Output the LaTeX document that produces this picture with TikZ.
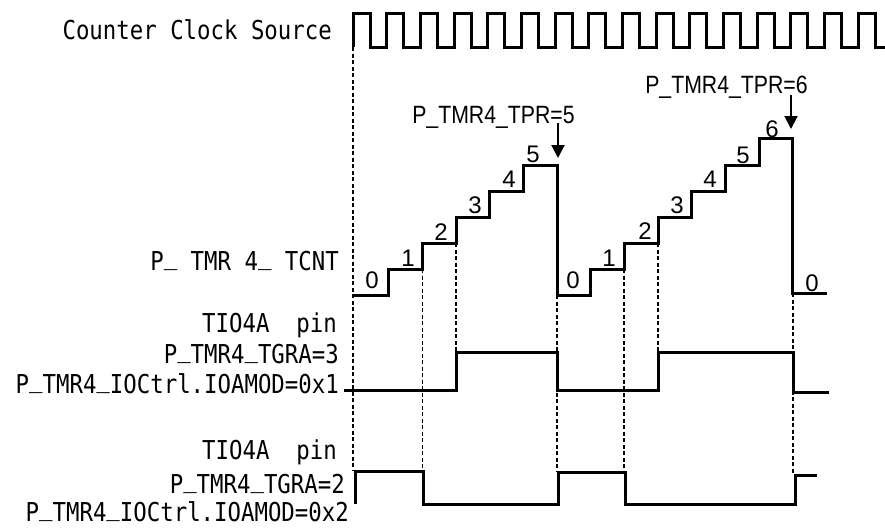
\documentclass[tikz,border=0pt]{standalone}
\usepackage{fontspec}
\setmainfont{Liberation Sans}
\newfontfamily\monolab[FakeStretch=0.86]{DejaVu Sans Mono}
\newfontfamily\narrowlab[FakeStretch=0.85]{Liberation Sans}
\usetikzlibrary{arrows.meta}
\newcommand\usc{\raisebox{0.22em}{\_}}
\begin{document}
\begin{tikzpicture}[x=1pt,y=-1pt,
  wave/.style={line width=3pt, line join=miter},
  guide/.style={line width=1.1pt, dash pattern=on 4pt off 2.5pt},
  lab/.style={font=\monolab\fontsize{26}{27}\selectfont, inner sep=0pt, anchor=base east},
  num/.style={font=\fontsize{24}{24}\selectfont, inner sep=0pt, anchor=base},
  tpr/.style={font=\narrowlab\fontsize{25}{26}\selectfont, inner sep=0pt, anchor=base},
  ptr/.style={line width=2pt, -{Triangle[length=13pt,width=13pt]}}
]
\useasboundingbox (0,0) rectangle (885,528);

% labels
\node[lab] (lclk) at (332,39) {Counter Clock Source};
\node[lab] (lcnt) at (339,270) {P\usc{} TMR 4\usc{} TCNT};
\node[lab] (lpin1) at (337,332) {TIO4A\ \ pin};
\node[lab] (lgra3) at (339,363) {P\usc TMR4\usc TGRA=3};
\node[lab] (lmod1) at (339,393) {P\usc TMR4\usc IOCtrl.IOAMOD=0x1};
\node[lab] (lpin2) at (337,459) {TIO4A\ \ pin};
\node[lab] (lgra2) at (345,493) {P\usc TMR4\usc TGRA=2};
\node[lab] (lmod2) at (349,521) {P\usc TMR4\usc IOCtrl.IOAMOD=0x2};

% dashed guides
\draw[guide] (353,47) -- (353,470);
\draw[guide] (422.5,269) -- (422.5,471);
\draw[guide] (456,243) -- (456,352);
\draw[guide] (557,295) -- (557,472);
\draw[guide] (624,269) -- (624,472);
\draw[guide] (658,243) -- (658,352);
\draw[guide] (793,293) -- (793,474);

% clock
\draw[wave] (353,47) \foreach \k in {0,...,15}{
  -- ({353+\k*33.67},47) -- ({353+\k*33.67},13) -- ({370+\k*33.67},13) -- ({370+\k*33.67},47)
} -- (886,47);

% counter staircase
\draw[wave] (354,295) -- (388.7,295) -- (388.7,269) -- (422.3,269) -- (422.3,243)
  -- (456,243) -- (456,217) -- (489.7,217) -- (489.7,191) -- (523.3,191) -- (523.3,165)
  -- (557,165) -- (557,295) -- (590.7,295) -- (590.7,269) -- (624.3,269) -- (624.3,243)
  -- (658,243) -- (658,217) -- (691.7,217) -- (691.7,191) -- (725.3,191) -- (725.3,165)
  -- (759,165) -- (759,138) -- (792.7,138) -- (792.7,293) -- (827,293);

% counter values
\node[num] (c0a) at (372,288) {0};
\node[num] (c1a) at (408,266) {1};
\node[num] (c2a) at (441,240) {2};
\node[num] (c3a) at (475,213) {3};
\node[num] (c4a) at (509,187) {4};
\node[num] (c5a) at (533,162) {5};
\node[num] (c0b) at (573,288) {0};
\node[num] (c1b) at (609,266) {1};
\node[num] (c2b) at (645,239) {2};
\node[num] (c3b) at (677,213) {3};
\node[num] (c4b) at (710,187) {4};
\node[num] (c5b) at (743,163) {5};
\node[num] (c6b) at (772,137) {6};
\node[num] (c0c) at (812,291) {0};

% TPR labels and arrows
\node[tpr] (tpr5) at (493.5,123) {P\_TMR4\_TPR=5};
\node[tpr] (tpr6) at (726.5,93) {P\_TMR4\_TPR=6};
\coordinate (a5s) at (558,123);
\coordinate (a5e) at (558,158);
\coordinate (a6s) at (791,95);
\coordinate (a6e) at (791,129);
\draw[ptr] (a5s) -- (a5e);
\draw[ptr] (a6s) -- (a6e);

% TIO4A, mode 0x1
\draw[wave] (344,390) -- (456,390) -- (456,352) -- (557,352) -- (557,390) -- (658,390)
  -- (658,352) -- (793,352) -- (793,392) -- (829,392);

% TIO4A, mode 0x2
\draw[wave] (355,504) -- (355,471) -- (423,471) -- (423,504) -- (558,504) -- (558,472)
  -- (625,472) -- (625,504) -- (795,504) -- (795,475) -- (817,475);
\end{tikzpicture}
\end{document}
